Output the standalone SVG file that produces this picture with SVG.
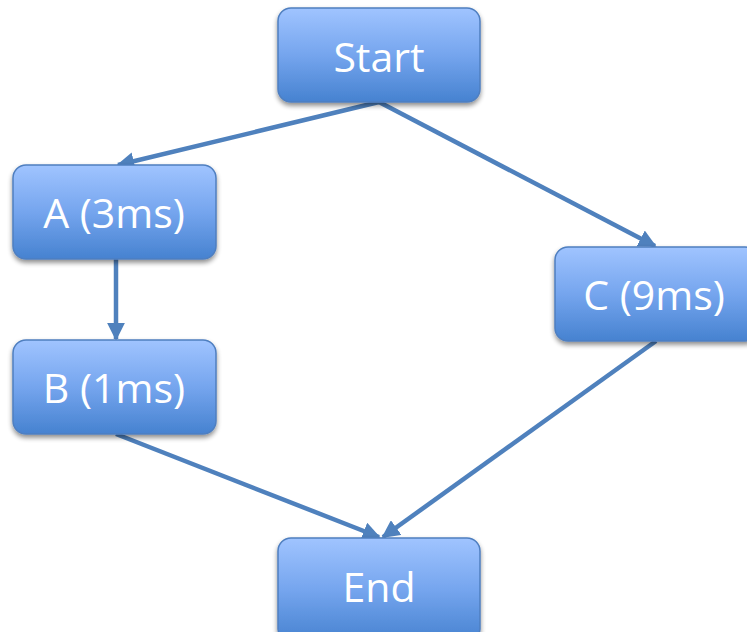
<svg xmlns="http://www.w3.org/2000/svg" width="747" height="632" viewBox="0 0 747 632">
  <defs>
    <linearGradient id="boxFill" x1="0" y1="0" x2="0" y2="1">
      <stop offset="0" stop-color="#a0c4ff"/>
      <stop offset="0.5" stop-color="#75a5ee"/>
      <stop offset="1" stop-color="#4682d0"/>
    </linearGradient>
    <filter id="shadow" x="-10%" y="-10%" width="120%" height="135%">
      <feGaussianBlur in="SourceAlpha" stdDeviation="2.5"/>
      <feOffset dy="3" result="b"/>
      <feComponentTransfer><feFuncA type="linear" slope="0.45"/></feComponentTransfer>
      <feMerge><feMergeNode/><feMergeNode in="SourceGraphic"/></feMerge>
    </filter>
    <marker id="arrow" viewBox="0 0 10 10" refX="9" refY="5" markerWidth="4" markerHeight="4" orient="auto" markerUnits="strokeWidth">
      <path d="M0,0 L10,5 L0,10 z" fill="#4f81bd"/>
    </marker>
    <style>
      .box { fill: url(#boxFill); stroke: #4f7fc0; stroke-width: 1.5; filter: url(#shadow); }
      .label { fill: #ffffff; font-family: "Open Sans", "Liberation Sans", sans-serif; font-size: 41px; text-anchor: middle; }
      .edge { stroke: #4f81bd; stroke-width: 4.5; fill: none; marker-end: url(#arrow); }
    </style>
  </defs>

  <g id="connectors">
    <line class="edge" x1="379" y1="102" x2="118" y2="165"/>
    <line class="edge" x1="379" y1="102" x2="655" y2="246"/>
    <line class="edge" x1="116" y1="259" x2="116" y2="339"/>
    <line class="edge" x1="116" y1="434" x2="379" y2="537"/>
    <line class="edge" x1="656" y1="341" x2="383" y2="537"/>
  </g>

  <g id="start">
    <rect class="box" x="278" y="8" width="202" height="94" rx="13"/>
    <text class="label" x="379" y="72">Start</text>
  </g>
  <g id="a">
    <rect class="box" x="13" y="165" width="203" height="94" rx="13"/>
    <text class="label" x="114" y="228">A (3ms)</text>
  </g>
  <g id="b">
    <rect class="box" x="13" y="340" width="203" height="94" rx="13"/>
    <text class="label" x="114" y="403">B (1ms)</text>
  </g>
  <g id="c">
    <rect class="box" x="555" y="247" width="203" height="94" rx="13"/>
    <text class="label" x="654" y="310">C (9ms)</text>
  </g>
  <g id="end">
    <rect class="box" x="278" y="538" width="202" height="104" rx="13"/>
    <text class="label" x="379" y="602">End</text>
  </g>
</svg>
